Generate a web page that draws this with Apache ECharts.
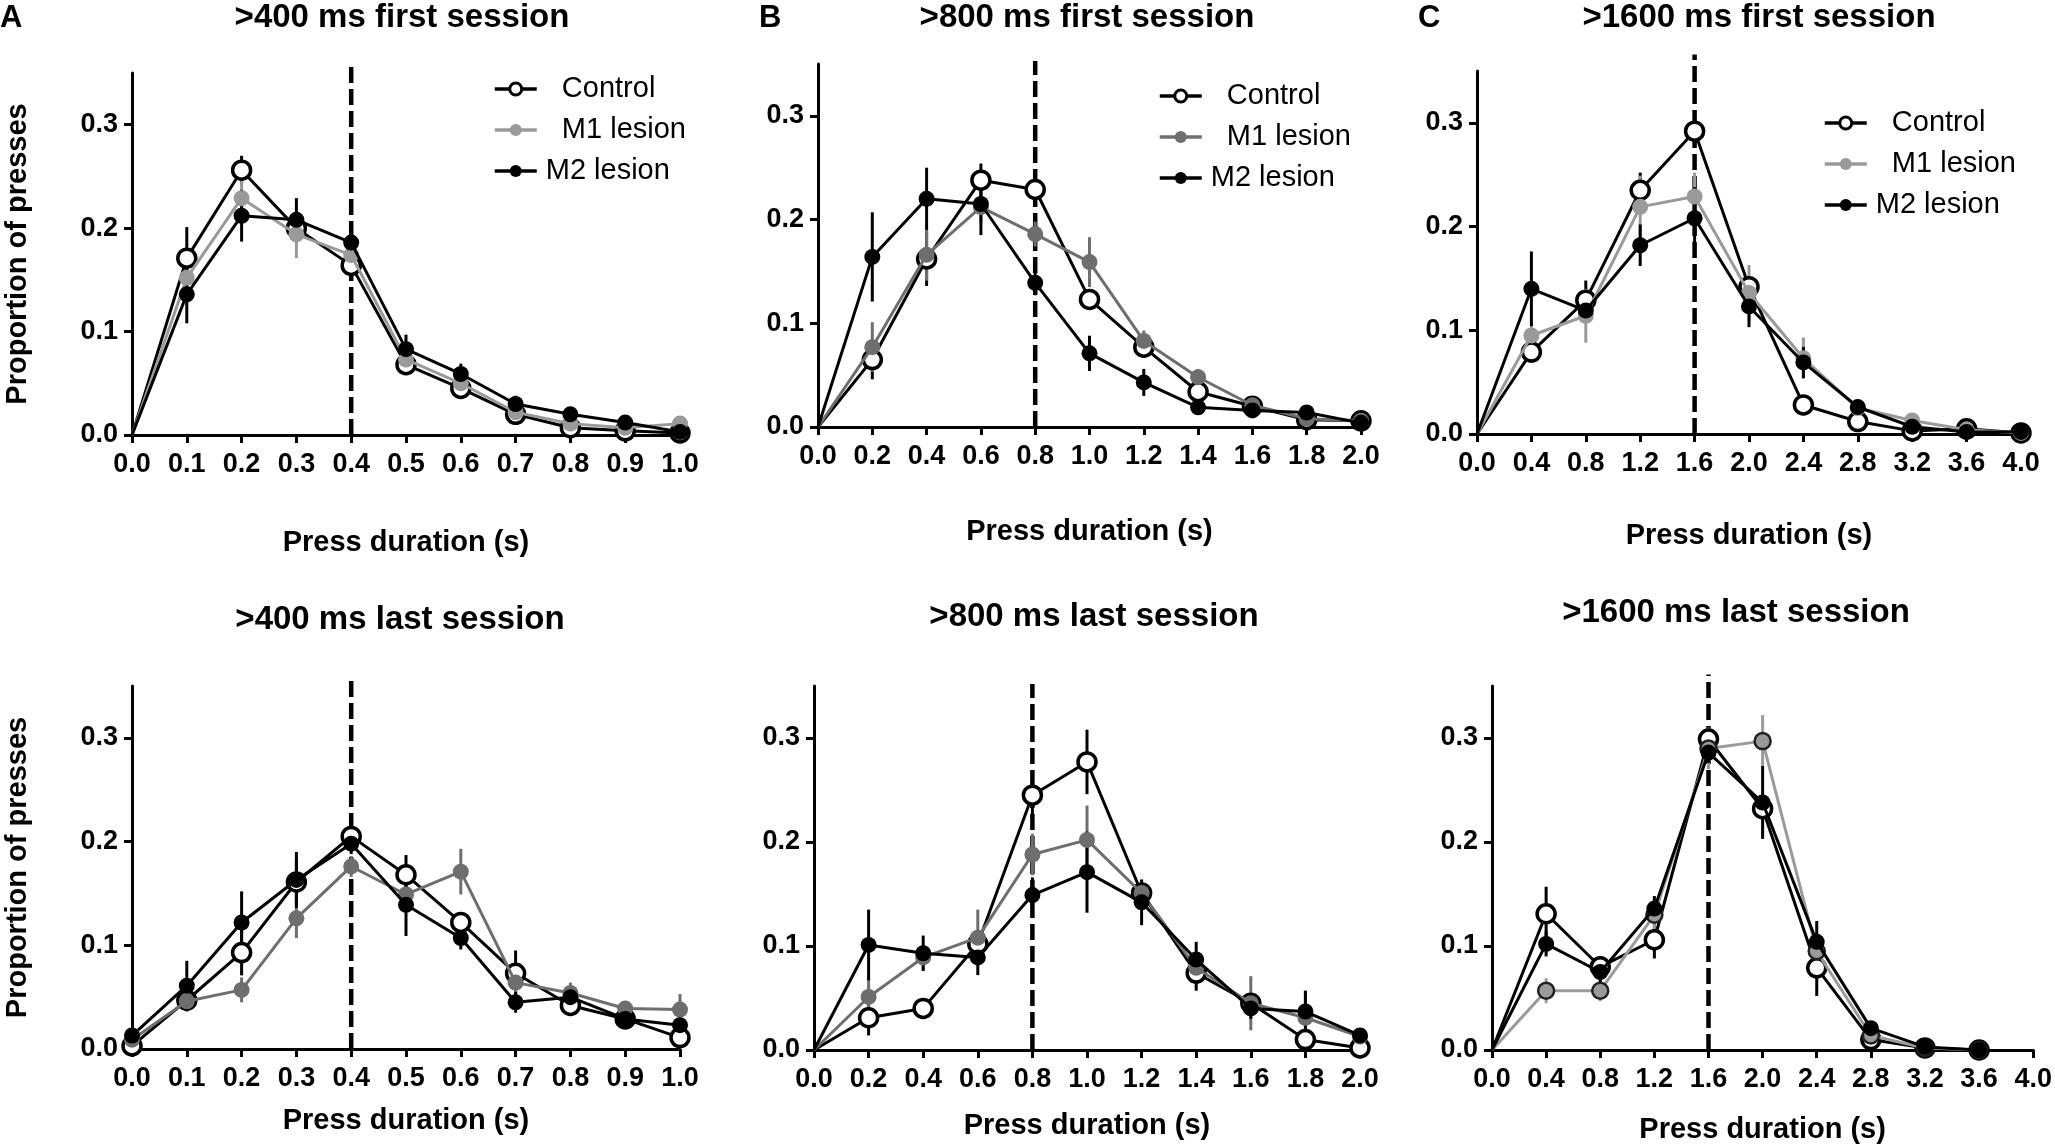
<!DOCTYPE html>
<html>
<head>
<meta charset="utf-8">
<title>Press duration distributions</title>
<script src="https://cdn.jsdelivr.net/npm/echarts@6/dist/echarts.min.js"></script>
<style>
  html, body { margin: 0; padding: 0; background: #fff; }
  #chart { width: 2055px; height: 1147px; }
</style>
</head>
<body>
<div id="chart"></div>
<script>
// x ticks / x positions of the bins
const ticks1 = [0, 0.1, 0.2, 0.3, 0.4, 0.5, 0.6, 0.7, 0.8, 0.9, 1.0];
const ticks2 = [0, 0.2, 0.4, 0.6, 0.8, 1.0, 1.2, 1.4, 1.6, 1.8, 2.0];
const ticks4 = [0, 0.4, 0.8, 1.2, 1.6, 2.0, 2.4, 2.8, 3.2, 3.6, 4.0];
const binsC2 = [0, 0.4, 0.8, 1.2, 1.6, 2.0, 2.4, 2.8, 3.2, 3.6];
const yTicks = [0, 0.1, 0.2, 0.3];

const titles = ['>400 ms first session', '>800 ms first session', '>1600 ms first session',
                '>400 ms last session', '>800 ms last session', '>1600 ms last session'];
const criteria = [0.4, 0.8, 1.6, 0.4, 0.8, 1.6];
const seriesNames = ['Control', 'M1 lesion', 'M2 lesion'];

// >400 ms first session
const ctrlA1 = [0, 0.171, 0.256, 0.200, 0.164, 0.068, 0.045, 0.020, 0.007, 0.004, 0.002];
const m1A1   = [0, 0.152, 0.229, 0.194, 0.174, 0.073, 0.050, 0.022, 0.011, 0.007, 0.011];
const m2A1   = [0, 0.136, 0.212, 0.208, 0.186, 0.083, 0.059, 0.030, 0.020, 0.012, 0.003];
const ctrlErrA1 = [0, 0.030, 0.014, 0.010, 0.006, 0.006, 0.006, 0.003, 0.003, 0.002, 0.001];
const m1ErrA1   = [0, 0.022, 0.020, 0.023, 0.008, 0.006, 0.005, 0.003, 0.003, 0.002, 0.002];
const m2ErrA1   = [0, 0.028, 0.025, 0.021, 0.008, 0.014, 0.010, 0.008, 0.003, 0.002, 0.001];

// >800 ms first session
const ctrlB1 = [0, 0.065, 0.162, 0.238, 0.229, 0.123, 0.077, 0.034, 0.020, 0.007, 0.006];
const m1B1   = [0, 0.077, 0.166, 0.212, 0.186, 0.159, 0.083, 0.048, 0.021, 0.008, 0.006];
const m2B1   = [0, 0.164, 0.220, 0.215, 0.139, 0.071, 0.043, 0.019, 0.016, 0.014, 0.004];
const ctrlErrB1 = [0, 0.019, 0.026, 0.016, 0.010, 0.010, 0.006, 0.005, 0.003, 0.002, 0.001];
const m1ErrB1   = [0, 0.024, 0.025, 0.015, 0.012, 0.024, 0.010, 0.008, 0.004, 0.003, 0.002];
const m2ErrB1   = [0, 0.043, 0.030, 0.030, 0.012, 0.017, 0.013, 0.004, 0.003, 0.003, 0.001];

// >1600 ms first session
const ctrlC1 = [0, 0.079, 0.129, 0.235, 0.292, 0.142, 0.028, 0.012, 0.003, 0.005, 0.001];
const m1C1   = [0, 0.095, 0.114, 0.219, 0.229, 0.136, 0.073, 0.025, 0.013, 0.004, 0.001];
const m2C1   = [0, 0.140, 0.119, 0.182, 0.208, 0.123, 0.069, 0.026, 0.007, 0.002, 0.002];
const ctrlErrC1 = [0, 0.008, 0.019, 0.017, 0.015, 0.008, 0.004, 0.004, 0.002, 0.001, 0.001];
const m1ErrC1   = [0, 0.010, 0.026, 0.030, 0.023, 0.027, 0.020, 0.008, 0.003, 0.001, 0.001];
const m2ErrC1   = [0, 0.036, 0.012, 0.020, 0.030, 0.020, 0.015, 0.006, 0.003, 0.001, 0.001];

// >400 ms last session
const ctrlA2 = [0.003, 0.047, 0.093, 0.161, 0.205, 0.168, 0.122, 0.073, 0.042, 0.029, 0.011];
const m1A2   = [0.009, 0.046, 0.057, 0.126, 0.176, 0.149, 0.171, 0.064, 0.054, 0.039, 0.038];
const m2A2   = [0.013, 0.061, 0.122, 0.163, 0.198, 0.139, 0.107, 0.045, 0.050, 0.029, 0.023];
const ctrlErrA2 = [0.002, 0.010, 0.022, 0.020, 0.008, 0.019, 0.010, 0.022, 0.010, 0.006, 0.004];
const m1ErrA2   = [0.003, 0.010, 0.012, 0.019, 0.010, 0.015, 0.022, 0.010, 0.010, 0.006, 0.015];
const m2ErrA2   = [0.003, 0.024, 0.030, 0.027, 0.010, 0.030, 0.011, 0.010, 0.010, 0.006, 0.005];

// >800 ms last session
const ctrlB2 = [0, 0.031, 0.040, 0.102, 0.245, 0.277, 0.151, 0.074, 0.045, 0.010, 0.002];
const m1B2   = [0, 0.051, 0.089, 0.108, 0.188, 0.202, 0.151, 0.079, 0.045, 0.031, 0.013];
const m2B2   = [0, 0.101, 0.093, 0.089, 0.149, 0.171, 0.142, 0.087, 0.040, 0.037, 0.014];
const ctrlErrB2 = [0, 0.017, 0.006, 0.010, 0.021, 0.031, 0.010, 0.017, 0.006, 0.005, 0.002];
const m1ErrB2   = [0, 0.020, 0.012, 0.027, 0.020, 0.033, 0.012, 0.010, 0.026, 0.026, 0.003];
const m2ErrB2   = [0, 0.034, 0.017, 0.017, 0.017, 0.039, 0.022, 0.017, 0.010, 0.020, 0.003];

// >1600 ms last session
const ctrlC2 = [0, 0.131, 0.080, 0.106, 0.299, 0.232, 0.079, 0.010, 0.002, 0.000];
const m1C2   = [0, 0.057, 0.057, 0.130, 0.290, 0.297, 0.095, 0.014, 0.002, 0.000];
const m2C2   = [0, 0.102, 0.075, 0.136, 0.286, 0.238, 0.104, 0.021, 0.003, 0.000];
const ctrlErrC2 = [0, 0.026, 0.010, 0.018, 0.010, 0.010, 0.027, 0.003, 0.001, 0];
const m1ErrC2   = [0, 0.012, 0.010, 0.015, 0.020, 0.025, 0.010, 0.003, 0.001, 0];
const m2ErrC2   = [0, 0.012, 0.015, 0.012, 0.010, 0.035, 0.020, 0.004, 0.001, 0];

const FONT = 'Liberation Sans, Arial, sans-serif';
const LIGHT = '#9a9a9a';
const DARK = '#6e6e6e';

const panels = [
    { ticks: ticks1, bins: ticks1, vals: [ctrlA1, m1A1, m2A1], errs: [ctrlErrA1, m1ErrA1, m2ErrA1], m1: LIGHT,
      grid: { left: 132, top: 73, width: 548, height: 362 }, dashTop: 0.361, ylab: true, xGap: 93,
      title: [402, 18], letter: ['A', 0], legend: [488, 69] },
    { ticks: ticks2, bins: ticks2, vals: [ctrlB1, m1B1, m2B1], errs: [ctrlErrB1, m1ErrB1, m2ErrB1], m1: DARK,
      grid: { left: 818, top: 64, width: 543, height: 363 }, dashTop: 0.353, ylab: false, xGap: 90,
      title: [1087, 18], letter: ['B', 759], legend: [1153, 76] },
    { ticks: ticks4, bins: ticks4, vals: [ctrlC1, m1C1, m2C1], errs: [ctrlErrC1, m1ErrC1, m2ErrC1], m1: LIGHT,
      grid: { left: 1477, top: 71, width: 544, height: 363 }, dashTop: 0.366, ylab: false, xGap: 87,
      title: [1759, 18], letter: ['C', 1418], legend: [1818, 103] },
    { ticks: ticks1, bins: ticks1, vals: [ctrlA2, m1A2, m2A2], errs: [ctrlErrA2, m1ErrA2, m2ErrA2], m1: DARK,
      grid: { left: 132, top: 686, width: 548, height: 363 }, dashTop: 0.358, ylab: true, xGap: 57,
      title: [400, 620] },
    { ticks: ticks2, bins: ticks2, vals: [ctrlB2, m1B2, m2B2], errs: [ctrlErrB2, m1ErrB2, m2ErrB2], m1: DARK,
      grid: { left: 814, top: 686, width: 546, height: 364 }, dashTop: 0.352, ylab: false, xGap: 61,
      title: [1094, 617] },
    { ticks: ticks4, bins: binsC2, vals: [ctrlC2, m1C2, m2C2], errs: [ctrlErrC2, m1ErrC2, m2ErrC2], m1: LIGHT,
      grid: { left: 1492, top: 686, width: 545, height: 364 }, dashTop: 0.361, ylab: false, xGap: 65,
      title: [1736, 613], m1Border: '#222' }
];

const chart = echarts.init(document.getElementById('chart'), null, { renderer: 'canvas' });

const grids = [], xAxes = [], yAxes = [], series = [], legends = [], graphics = [];

const labelStyle = { color: '#000', fontFamily: FONT, fontWeight: 'bold', fontSize: 27 };
const nameStyle = { color: '#000', fontFamily: FONT, fontWeight: 'bold', fontSize: 29 };

panels.forEach((p, k) => {
    grids.push(Object.assign({ containLabel: false }, p.grid));

    xAxes.push({
        gridIndex: k,
        type: 'value',
        min: 0,
        max: p.ticks[p.ticks.length - 1],
        axisLine: { show: true, lineStyle: { color: '#000', width: 3 } },
        axisTick: { show: true, length: 8, lineStyle: { color: '#000', width: 3 }, customValues: p.ticks },
        axisLabel: Object.assign({ customValues: p.ticks, margin: 16, formatter: v => v.toFixed(1) }, labelStyle),
        splitLine: { show: false },
        name: 'Press duration (s)',
        nameLocation: 'middle',
        nameGap: p.xGap,
        nameTextStyle: nameStyle
    });

    yAxes.push({
        gridIndex: k,
        type: 'value',
        min: 0,
        max: 0.35,
        axisLine: { show: true, lineStyle: { color: '#000', width: 3 } },
        axisTick: { show: true, length: 8, lineStyle: { color: '#000', width: 3 }, customValues: yTicks },
        axisLabel: Object.assign({ customValues: yTicks, margin: 14, formatter: v => v.toFixed(1) }, labelStyle),
        splitLine: { show: false },
        name: p.ylab ? 'Proportion of presses' : '',
        nameLocation: 'middle',
        nameGap: 100,
        nameTextStyle: nameStyle
    });

    const colors = ['#000', p.m1, '#000'];

    // dashed criterion line
    series.push({
        type: 'custom',
        name: 'criterion' + k,
        xAxisIndex: k, yAxisIndex: k,
        clip: false,
        silent: true,
        z: 1,
        data: [[criteria[k], 0, p.dashTop]],
        renderItem: (params, api) => {
            const a = api.coord([api.value(0), api.value(1)]);
            const b = api.coord([api.value(0), api.value(2)]);
            return {
                type: 'line',
                shape: { x1: a[0], y1: a[1], x2: b[0], y2: b[1] },
                style: { stroke: '#000', lineWidth: 4.5, lineDash: [16, 6] }
            };
        }
    });

    // error bars
    p.vals.forEach((vals, s) => {
        series.push({
            type: 'custom',
            name: seriesNames[s] + ' err' + k,
            xAxisIndex: k, yAxisIndex: k,
            silent: true,
            clip: false,
            z: 2 + s,
            data: p.bins.map((x, i) => [x, vals[i], p.errs[s][i]]),
            renderItem: (params, api) => {
                const e = api.value(2);
                if (!e) return;
                const a = api.coord([api.value(0), api.value(1) - e]);
                const b = api.coord([api.value(0), api.value(1) + e]);
                return {
                    type: 'line',
                    shape: { x1: a[0], y1: a[1], x2: b[0], y2: b[1] },
                    style: { stroke: colors[s], lineWidth: 3 }
                };
            }
        });
    });

    // lines + markers
    p.vals.forEach((vals, s) => {
        const isCtrl = s === 0;
        const size = isCtrl ? 18 : 16;
        series.push({
            type: 'line',
            name: seriesNames[s],
            xAxisIndex: k, yAxisIndex: k,
            z: 5 + s,
            clip: false,
            symbol: 'circle',
            symbolSize: v => (v[0] === 0 && v[1] === 0) ? 0 : size,
            showAllSymbol: true,
            lineStyle: { color: colors[s], width: 3 },
            itemStyle: isCtrl
                ? { color: '#fff', borderColor: '#000', borderWidth: 3.5 }
                : (s === 1 && p.m1Border
                    ? { color: colors[s], borderColor: p.m1Border, borderWidth: 2.5 }
                    : { color: colors[s], borderWidth: 0 }),
            emphasis: { disabled: true },
            animation: false,
            data: p.bins.map((x, i) => [x, vals[i]])
        });
    });

    if (p.legend) {
        legends.push({
            orient: 'vertical',
            left: p.legend[0],
            top: p.legend[1],
            itemWidth: 42,
            itemHeight: 15,
            itemGap: 11,
            selectedMode: false,
            textStyle: {
                color: '#000', fontFamily: FONT, fontSize: 29, lineHeight: 30,
                padding: [0, 0, 0, 4]
            },
            formatter: name => name === 'M2 lesion' ? name : '  ' + name,
            data: [
                { name: 'Control',
                  itemStyle: { color: '#fff', borderColor: '#000', borderWidth: 3 },
                  lineStyle: { color: '#000', width: 3.5 } },
                { name: 'M1 lesion',
                  itemStyle: { color: p.m1, borderColor: p.m1, borderWidth: 0 },
                  lineStyle: { color: p.m1, width: 3.5 } },
                { name: 'M2 lesion',
                  itemStyle: { color: '#000', borderColor: '#000', borderWidth: 0 },
                  lineStyle: { color: '#000', width: 3.5 } }
            ]
        });
    }

    graphics.push({
        type: 'text',
        x: p.title[0], y: p.title[1],
        style: {
            text: titles[k], fill: '#000', font: 'bold 33px ' + FONT,
            textAlign: 'center', textVerticalAlign: 'middle'
        }
    });
    if (p.letter) {
        graphics.push({
            type: 'text',
            x: p.letter[1], y: 18,
            style: {
                text: p.letter[0], fill: '#000', font: 'bold 31px ' + FONT,
                textAlign: 'left', textVerticalAlign: 'middle'
            }
        });
    }
});

chart.setOption({
    backgroundColor: '#fff',
    animation: false,
    grid: grids,
    xAxis: xAxes,
    yAxis: yAxes,
    legend: legends,
    graphic: graphics,
    series: series
});

window.addEventListener('resize', function() {
    chart.resize();
});
</script>
</body>
</html>
